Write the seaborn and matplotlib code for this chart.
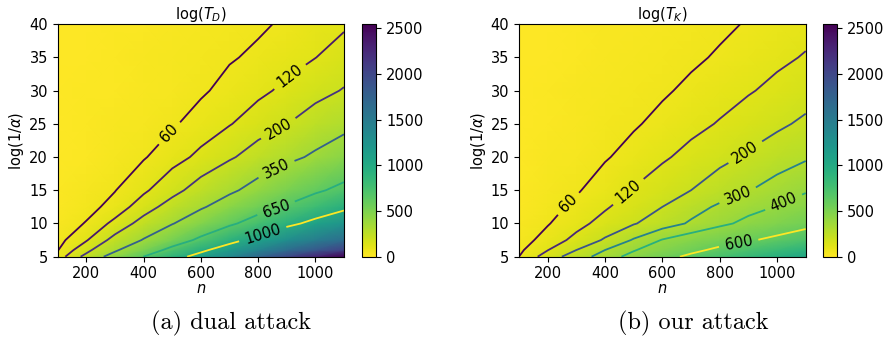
import numpy as np
import matplotlib
matplotlib.use("Agg")
import matplotlib.pyplot as plt
import seaborn as sns

# grid
n_values = [100, 200, 300, 400, 500, 600, 700, 800, 900, 1000, 1100]
log_inv_alpha = [5, 6, 7.5, 10, 12.5, 15, 20, 25, 30, 35, 40]

# log(T_D), rows follow log_inv_alpha, columns follow n_values
cost_dual = [
    [80, 230, 428, 652, 892, 1100, 1350, 1700, 2000, 2280, 2545],
    [57, 171, 324, 513, 718, 944, 1150, 1400, 1650, 1850, 2050],
    [40, 114, 232, 360, 525, 699, 905, 1100, 1300, 1480, 1650],
    [25, 64, 139, 237, 341, 473, 608, 762, 924, 1080, 1230],
    [18, 40, 80, 158, 241, 329, 438, 553, 671, 804, 936],
    [13, 32, 58, 108, 170, 243, 320, 412, 513, 614, 713],
    [8, 19, 35, 55, 94, 136, 187, 246, 308, 376, 457],
    [5, 13, 24, 37, 53, 84, 116, 156, 198, 249, 301],
    [4, 10, 19, 28, 39, 52, 78, 105, 135, 170, 206],
    [3, 8, 15, 24, 33, 44, 55, 70, 96, 119, 150],
    [2, 6, 12, 19, 26, 33, 42, 52, 68, 90, 111],
]

# log(T_K)
cost_ours = [
    [60, 152, 249, 345, 441, 540, 638, 739, 842, 944, 1050],
    [48, 118, 200, 300, 391, 474, 556, 640, 730, 820, 910],
    [35, 82, 140, 210, 310, 406, 465, 524, 582, 644, 720],
    [22, 56, 98, 145, 193, 252, 313, 373, 431, 485, 540],
    [16, 42, 72, 112, 155, 200, 261, 316, 363, 405, 450],
    [12, 32, 54, 88, 124, 162, 200, 249, 295, 345, 390],
    [8, 22, 38, 55, 80, 110, 142, 176, 212, 250, 288],
    [5, 15, 27, 40, 54, 75, 100, 125, 155, 184, 216],
    [4, 11, 20, 30, 41, 53, 71, 92, 114, 138, 164],
    [3, 9, 16, 24, 33, 42, 51, 66, 87, 106, 125],
    [2, 7, 13, 20, 27, 34, 42, 50, 64, 82, 99],
]

levels_dual = [60, 120, 200, 350, 650, 1000]
levels_ours = [60, 120, 200, 300, 400, 600]
# where the contour labels sit (n, log(1/alpha))
label_spots_dual = [(485, 23.8), (911, 32.1), (871, 24.3), (865, 18.1), (865, 12.0), (812, 9.0)]
label_spots_ours = [(272, 13.0), (481, 14.8), (888, 20.8), (865, 14.0), (1022, 13.3), (865, 7.3)]
titles = [r"log($T_D$)", r"log($T_K$)"]
captions = ["(a) dual attack", "(b) our attack"]
cbar_ticks = [0, 500, 1000, 1500, 2000, 2500]
x_ticks = [200, 400, 600, 800, 1000]
y_ticks = [5, 10, 15, 20, 25, 30, 35, 40]

plt.rcParams["font.family"] = ["DejaVu Sans"]
plt.rcParams["font.size"] = 10.5

heat_cmap = sns.color_palette("viridis_r", as_cmap=True)
line_cmap = sns.color_palette("viridis", as_cmap=True)
vmax = max(max(r) for r in cost_dual)

fig = plt.figure(figsize=(8.85, 3.44), dpi=100)
ax_boxes = [[0.0652, 0.2538, 0.3235, 0.6756], [0.5864, 0.2538, 0.3240, 0.6756]]
cb_boxes = [[0.4087, 0.2538, 0.0167, 0.6756], [0.9296, 0.2538, 0.0162, 0.6756]]
caption_x = [0.261, 0.783]

X, Y = np.meshgrid(n_values, log_inv_alpha)
for data, levels, spots, title, caption, box, cbox, cx in zip(
        [cost_dual, cost_ours], [levels_dual, levels_ours],
        [label_spots_dual, label_spots_ours], titles, captions,
        ax_boxes, cb_boxes, caption_x):
    Z = np.array(data, dtype=float)
    ax = fig.add_axes(box)
    mesh = ax.pcolormesh(X, Y, Z, cmap=heat_cmap, vmin=0, vmax=vmax, shading="gouraud")
    cs = ax.contour(X, Y, Z, levels=levels, cmap=line_cmap, linewidths=1.3)
    ax.clabel(cs, fmt="%d", fontsize=10.5, colors="k", manual=spots, inline_spacing=6)
    ax.set_xlim(100, 1100)
    ax.set_ylim(5, 40)
    ax.set_xticks(x_ticks)
    ax.set_yticks(y_ticks)
    ax.set_xlabel(r"$n$", labelpad=0)
    ax.set_ylabel(r"log(1/$\alpha$)", labelpad=2)
    ax.set_title(title, fontsize=10.5, pad=4)

    cax = fig.add_axes(cbox)
    fig.colorbar(mesh, cax=cax, ticks=cbar_ticks)

    fig.text(cx, 0.061, caption, family="cmr10", fontsize=17.5, ha="center", va="center")

fig.savefig("out.png", dpi=100)
